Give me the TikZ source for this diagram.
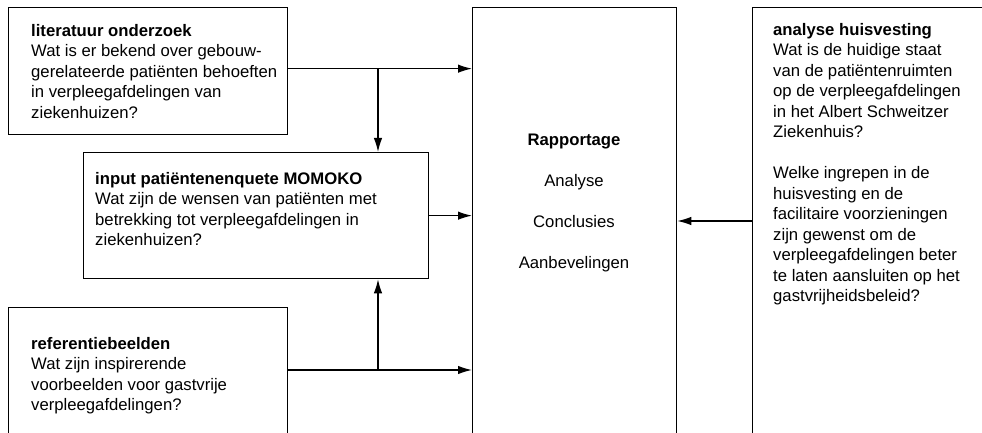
\documentclass[tikz,border=0pt]{standalone}
\usepackage{fontspec}
\setmainfont{Liberation Sans}
\usetikzlibrary{arrows.meta}

\begin{document}
\begin{tikzpicture}[x = 1pt, y = -1pt]
	\tikzstyle{boxStyle} = [shape = rectangle, draw, line width = 1.3pt, inner sep = 0pt, anchor = north west]
	\tikzstyle{textStyle} = [inner sep = 0pt, align = left, anchor = north west, font = \fontsize{16.7}{20.5}\selectfont]
	\tikzstyle{arrowStyle} = [line width = 1.3pt, -{Latex[length = 14pt, width = 8.5pt]}]
	\useasboundingbox (0, 0) rectangle (982, 433);
	\clip (0, 0) rectangle (982, 433);
	% boxes
	\node[boxStyle, minimum width = 279pt, minimum height = 127pt] (lit) at (8, 7) {};
	\node[boxStyle, minimum width = 345pt, minimum height = 126pt] (inp) at (83, 152) {};
	\node[boxStyle, minimum width = 279pt, minimum height = 160pt] (ref) at (8, 307) {};
	\node[boxStyle, minimum width = 204pt, minimum height = 460pt] (rap) at (472, 7) {};
	\node[boxStyle, minimum width = 260pt, minimum height = 460pt] (hui) at (752, 7) {};
	% texts
	\node[textStyle] (litText) at (31, 24) {\textbf{literatuur onderzoek}\\Wat is er bekend over gebouw-\\gerelateerde patiënten behoeften\\in verpleegafdelingen van\\ziekenhuizen?};
	\node[textStyle] (inpText) at (95, 172) {\textbf{input patiëntenenquete MOMOKO}\\Wat zijn de wensen van patiënten met\\betrekking tot verpleegafdelingen in\\ziekenhuizen?};
	\node[textStyle] (refText) at (31, 337) {\textbf{referentiebeelden}\\Wat zijn inspirerende\\voorbeelden voor gastvrije\\verpleegafdelingen?};
	\node[textStyle, align = center, anchor = north] (rapText) at (574, 134) {\textbf{Rapportage}\\[20.5pt]Analyse\\[20.5pt]Conclusies\\[20.5pt]Aanbevelingen};
	\node[textStyle] (huiText) at (773, 23) {\textbf{analyse huisvesting}\\Wat is de huidige staat\\van de patiëntenruimten\\op de verpleegafdelingen\\in het Albert Schweitzer\\Ziekenhuis?\\[20.5pt]Welke ingrepen in de\\huisvesting en de\\facilitaire voorzieningen\\zijn gewenst om de\\verpleegafdelingen beter\\te laten aansluiten op het\\gastvrijheidsbeleid?};
	% connectors
	\coordinate (split) at (378, 0);
	\coordinate (litOut) at ([yshift = 2.5pt]lit.east);
	\coordinate (refOut) at (287, 370);
	\coordinate (huiOut) at (752, 221);
	\draw[arrowStyle] (litOut) -- (rap.west |- litOut);
	\draw[arrowStyle] (split |- litOut) -- (split |- inp.north);
	\draw[arrowStyle] (inp.east) -- (rap.west |- inp.east);
	\draw[arrowStyle] (refOut) -- (rap.west |- refOut);
	\draw[arrowStyle] (split |- refOut) -- (split |- inp.south);
	\draw[arrowStyle] (huiOut) -- (rap.east |- huiOut);
\end{tikzpicture}
\end{document}
